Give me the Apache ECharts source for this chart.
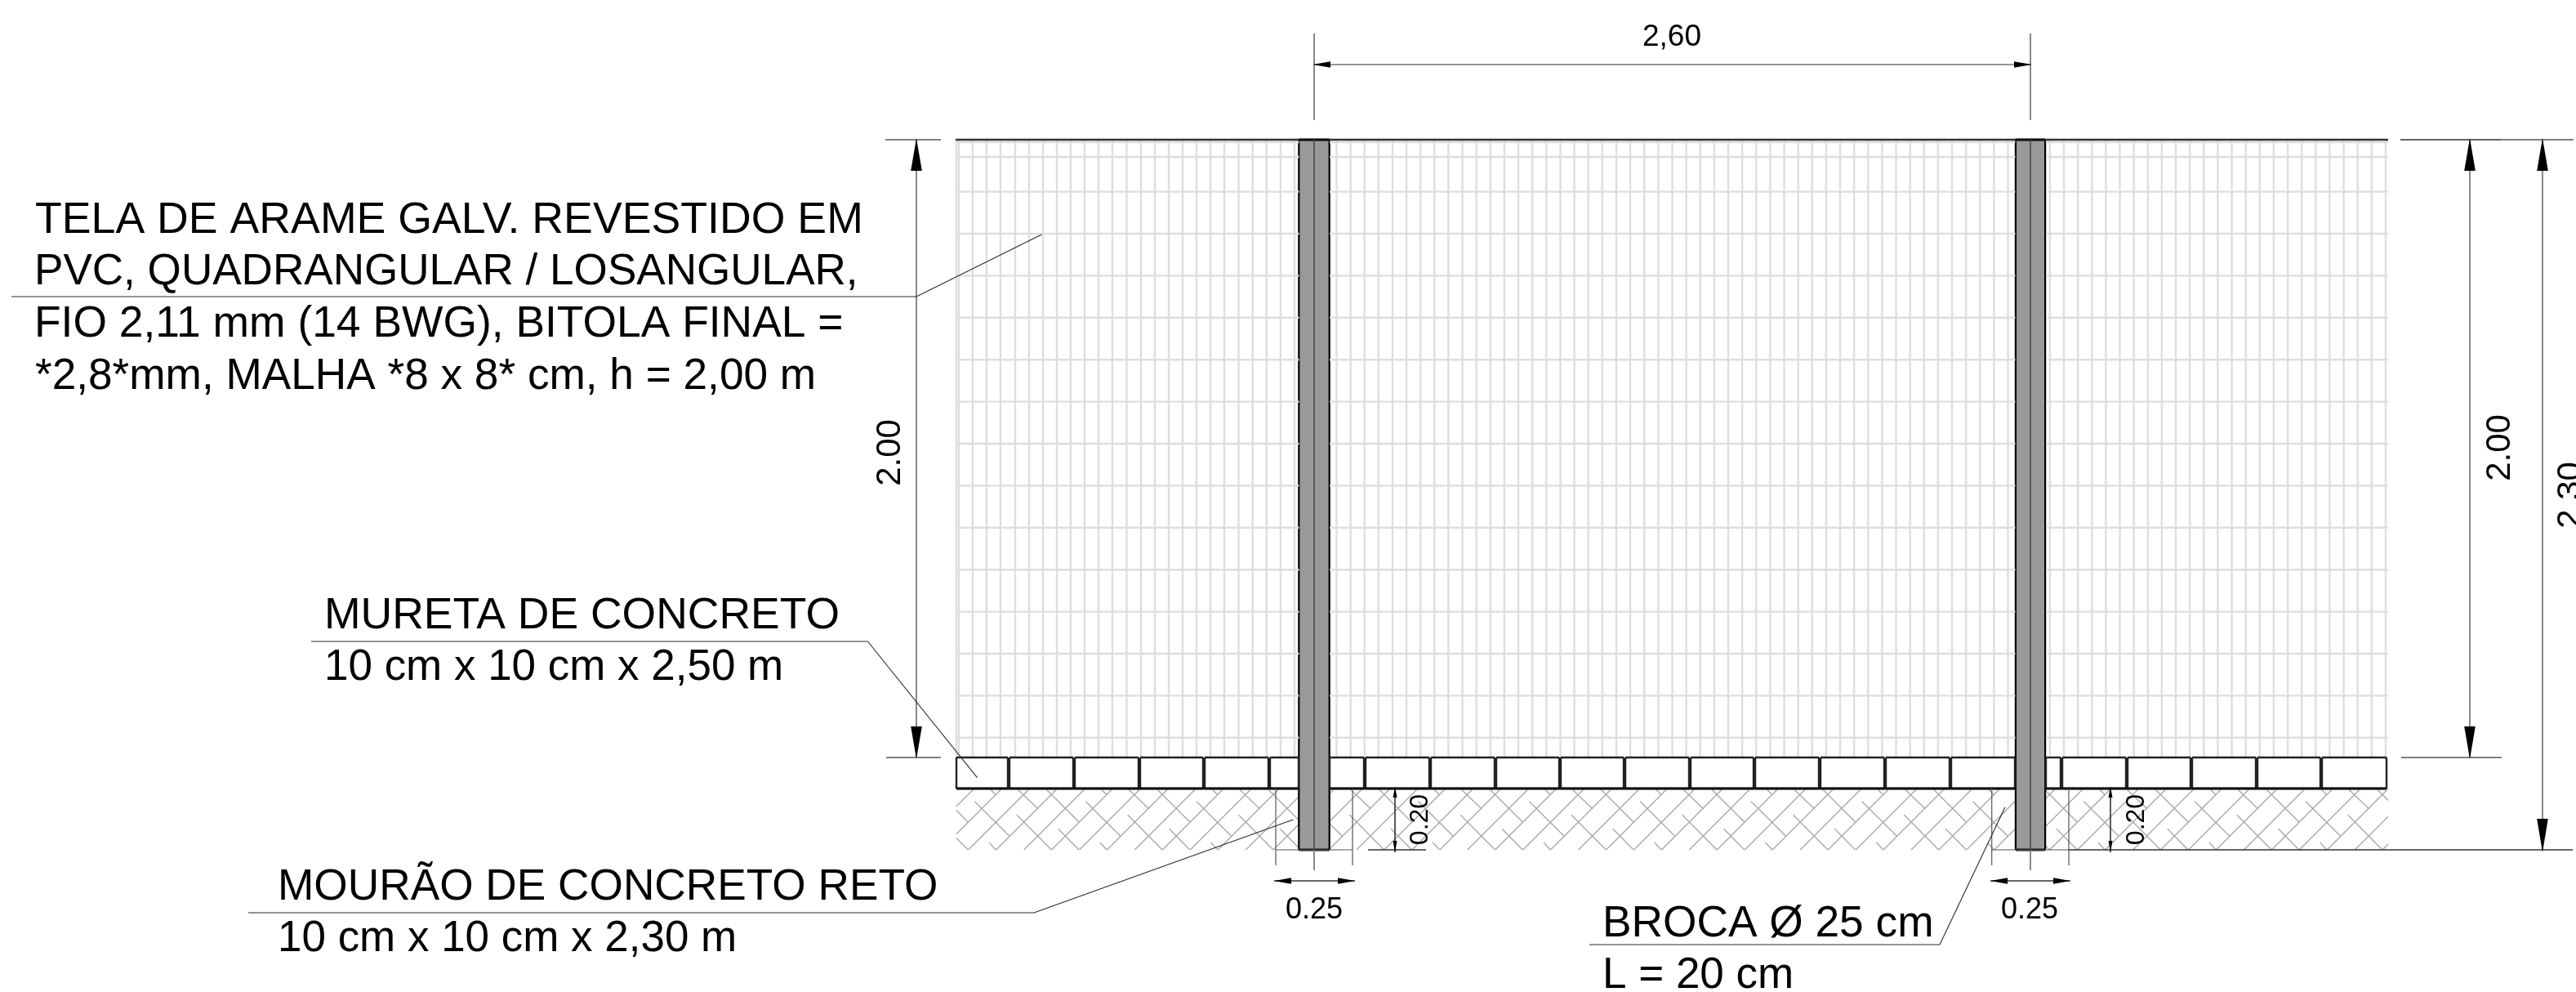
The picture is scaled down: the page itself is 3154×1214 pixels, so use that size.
<!DOCTYPE html>
<html>
<head>
<meta charset="utf-8">
<style>html,body{margin:0;padding:0;background:#fff;overflow:hidden}#c{width:3154px;height:1214px}</style>
<script src="https://cdn.jsdelivr.net/npm/echarts@6/dist/echarts.min.js"></script>
</head>
<body>
<div id="c"></div>
<script>
// All values are in drawing units (x right, y down).
const meshX = [1171,1174,1191,1208,1225,1243,1260,1277,1294,1311,1328,1345,1362,1379.5,1397,1414,1431,1448,1465,1482,1499,1516.5,1533.7,1550.8,1567.9,1585,
  1636.4,1653.6,1670.7,1687.8,1705,1722,1739.2,1756.3,1773.4,1790.6,1807.7,1824.8,1841.9,1859,1876.2,1893.3,1910.5,1927.6,1944.7,1961.8,1979,1996,2013.2,2030.4,2047.5,2064.6,2081.7,2098.9,2116,2133.1,2150.2,2167.4,2184.5,2201.6,2218.7,2235.9,2253,2270.1,2287.3,2304.4,2321.5,2338.6,2355.8,2372.9,2390,2407.1,2424.3,2441.4,2458.5,
  2509.9,2527,2544.2,2561.3,2578.4,2595.5,2612.7,2629.8,2646.9,2664,2681.2,2698.3,2715.4,2732.6,2749.7,2766.8,2783.9,2801.1,2818.2,2835.3,2852.4,2869.6,2886.7,2903.8,2921];
const meshY = [174,192,234.6,286,337.4,388.8,440.2,491.6,543,594.4,645.8,697.2,748.6,800,851.4,902.8];
const meshSpans = [[1171,1590.5],[1628,2467.5],[2505,2924]];
const wallBlocks = [[1171,1234],[1236,1314],[1316,1394],[1396,1473],[1475,1553],[1555,1590],[1628,1670],[1672,1750],[1752,1830],[1832,1909],[1911,1988],[1990,2068],[2070,2147],[2149,2227],[2229,2307],[2309,2387],[2389,2467],[2505,2523],[2525,2603],[2605,2682],[2684,2762],[2764,2841],[2843,2922]];
const wallTop = 927, wallBottom = 965, groundBottom = 1040, fenceTop = 171;
const posts = [[1590.3,1627.7,1609],[2467.9,2504.1,2486]];
const hatchTileOrigins = [1029.2,1165,1300.8,1436.6,1572.4,1708.2,1844,1979.8,2115.6,2251.4,2387.2,2523,2658.8,2794.6];
const hatchTile = [
  [20.7,1040,95.7,965],[54.6,1040,129.6,965],[88.6,1040,163.6,965],[122.5,1040,197.5,965],
  [46.7,965,54.3,972.7],[80,965,106,990],[115,965,156,1006],[28.3,980.7,71,1023.3],[80,997.3,122.3,1040],[130.7,1014.3,156,1040],[46,1031,54.3,1040]
];
const hatchRange = [1171,2924];
const holeLines = [[1562,965,1562,1059],[1656,965,1656,1059],[2438.7,965,2438.7,1059],[2533,965,2533,1059],[1562,1040,1656,1040],[2438.7,1040,2533,1040]];
const dimGray = [[1609,41,1609,147],[2486,41,2486,147],[1609,79,2486,79],[1122,171,1122,927],[3024,171,3024,927],[3113,171,3113,1040],[1609,1040,1609,1065],[2486,1040,2486,1065]];
const dimTicks = [[1084,171,1152,171],[1085,927,1152,927],[3062,171,3151,171],[2940,927,3063,927]];
const dimDark = [[2939,171,3062,171],[2533,1040,3150,1040],[1675,1040,1746,1040],[1560,1078,1659,1078],[2437,1078,2535,1078],[1708,963,1708,1043],[2584,963,2584,1043]];
const leaders = [[14,363,1122,363],[1122,363,1275.4,287],[381,785,1062.5,785],[1062.5,785,1196.5,951.7],[304,1117,1266,1117],[1266,1117,1583.5,1003],[1946,1156,2375,1156],[2375,1156,2455,987.7]];
// arrows: tip x, tip y, base x, base y, half width
const arrows = [
  [1607,79,1629,79,3.7],[2488,79,2466,79,3.7],
  [1122,169,1122,209,6.8],[1122,929,1122,889,6.8],
  [3024,169,3024,209,6.8],[3024,929,3024,889,6.8],
  [3113,169,3113,209,6.8],[3113,1043,3113,1002,6.8],
  [1560,1078,1581,1078,3.7],[1659,1078,1638,1078,3.7],[2437,1078,2458,1078,3.7],[2535,1078,2514,1078,3.7],
  [1708,963,1708,976,2.5],[1708,1043,1708,1029,2.5],[2584,963,2584,976,2.5],[2584,1043,2584,1029,2.5]
];
// text, x, y of cap-middle, size, align, rotation in degrees, width scale
const labels = [
  ['TELA DE ARAME GALV. REVESTIDO EM',43,270,53.5,'left',0,1.003],
  ['PVC, QUADRANGULAR / LOSANGULAR,',42,333,53.5,'left',0,0.992],
  ['FIO 2,11 mm (14 BWG), BITOLA FINAL =',42,397.7,53.5,'left',0,0.998],
  ['*2,8*mm, MALHA *8 x 8* cm, h = 2,00 m',43,461.7,53.5,'left',0,0.994],
  ['MURETA DE CONCRETO',397,754,53.5,'left',0,1],
  ['10 cm x 10 cm x 2,50 m',397,817.3,53.5,'left',0,0.99],
  ['MOURÃO DE CONCRETO RETO',340,1086,53.5,'left',0,0.995],
  ['10 cm x 10 cm x 2,30 m',340,1149.3,53.5,'left',0,0.99],
  ['BROCA Ø 25 cm',1962,1131,53,'left',0,1.005],
  ['L = 20 cm',1962,1194,53,'left',0,1],
  ['2,60',2047,46,37,'center',0,1],
  ['0.25',1609,1114,36,'center',0,1],
  ['0.25',2485,1114,36,'center',0,1],
  ['0.20',1739.5,1003,32,'center',90,1],
  ['0.20',2616.5,1003,32,'center',90,1],
  ['2.00',1090.5,554,42,'center',90,1],
  ['2.00',3061,548,42,'center',90,1],
  ['2.30',3148.5,606,42,'center',90,1]
];

function clipToRange(s, range) {
  let [x1,y1,x2,y2] = s;
  if (x1 > x2) { [x1,y1,x2,y2] = [x2,y2,x1,y1]; }
  if (x2 < range[0] || x1 > range[1]) return null;
  const m = (y2-y1)/(x2-x1);
  if (x1 < range[0]) { y1 += m*(range[0]-x1); x1 = range[0]; }
  if (x2 > range[1]) { y2 -= m*(x2-range[1]); x2 = range[1]; }
  return [x1,y1,x2,y2];
}
const hatchSegments = [];
hatchTileOrigins.forEach(o => hatchTile.forEach(t => {
  const c = clipToRange([o+t[0],t[1],o+t[2],t[3]], hatchRange);
  if (c) hatchSegments.push(c);
}));
const meshSegments = [];
meshX.forEach(x => meshSegments.push([x,fenceTop,x,wallTop]));
meshY.forEach(y => meshSpans.forEach(s => meshSegments.push([s[0],y,s[1],y])));
const wallSegments = [];
wallBlocks.forEach(b => {
  wallSegments.push([b[0],wallTop,b[1],wallTop],[b[0],wallBottom,b[1],wallBottom],[b[0],wallTop,b[0],wallBottom],[b[1],wallTop,b[1],wallBottom]);
});
const postSides = [], postCentres = [], postEnds = [], postBodies = [];
posts.forEach(p => {
  postSides.push([p[0],fenceTop,p[0],groundBottom],[p[1],fenceTop,p[1],groundBottom]);
  postEnds.push([p[0],fenceTop,p[1],fenceTop],[p[0],groundBottom,p[1],groundBottom]);
  postCentres.push([p[2],fenceTop,p[2],groundBottom]);
  postBodies.push([p[0],fenceTop,p[1],groundBottom]);
});

function segs(name, data, color, width, cap) {
  return {
    type:'custom', name, silent:true, data, clip:true, animation:false,
    renderItem(params, api) {
      const a = api.coord([api.value(0),api.value(1)]), b = api.coord([api.value(2),api.value(3)]);
      return {type:'line', shape:{x1:a[0],y1:a[1],x2:b[0],y2:b[1]}, style:{stroke:color,lineWidth:width,fill:null,lineCap:cap||'butt'}};
    }
  };
}
const series = [
  segs('hatch', hatchSegments, '#aaaaaa', 1.4),
  {type:'custom',name:'posts',silent:true,data:postBodies,animation:false,renderItem(params,api){
    const a=api.coord([api.value(0),api.value(1)]),b=api.coord([api.value(2),api.value(3)]);
    return {type:'rect',shape:{x:a[0],y:a[1],width:b[0]-a[0],height:b[1]-a[1]},style:{fill:'#999999'}};
  }},
  segs('postSides', postSides, '#000000', 2.2),
  segs('mesh', meshSegments, '#dedede', 2.4),
  segs('fenceTop', [[1170,171,2924,171]], '#333333', 2.5),
  segs('postEnds', postEnds, '#111111', 3),
  segs('postCentres', postCentres, '#444444', 1.5),
  segs('wall', wallSegments, '#222222', 2.4),
  segs('wallBase', [[1171,965,1590,965],[1628,965,2467,965],[2505,965,2922,965]], '#111111', 3),
  segs('hole', holeLines, '#555555', 1.2),
  segs('dimGray', dimGray, '#747474', 1.7),
  segs('dimTicks', dimTicks, '#808080', 2),
  segs('dimDark', dimDark, '#333333', 1.6),
  segs('leaders', leaders, '#2b2b2b', 1.1),
  {type:'custom',name:'arrows',silent:true,data:arrows,animation:false,renderItem(params,api){
    const t=api.coord([api.value(0),api.value(1)]),b=api.coord([api.value(2),api.value(3)]),h=api.value(4);
    const dx=b[0]-t[0],dy=b[1]-t[1],l=Math.hypot(dx,dy),nx=-dy/l*h,ny=dx/l*h;
    return {type:'polygon',shape:{points:[t,[b[0]+nx,b[1]+ny],[b[0]-nx,b[1]-ny]]},style:{fill:'#000000'}};
  }},
  {type:'custom',name:'labels',silent:true,clip:false,data:labels.map(l=>[l[1],l[2]]),animation:false,renderItem(params,api){
    const l=labels[params.dataIndex],p=api.coord([l[1],l[2]]);
    return {type:'text',x:p[0],y:p[1],originX:0,originY:0,scaleX:l[6],rotation:l[5]*Math.PI/180,style:{text:l[0],fill:'#000000',font:l[3]+'px "Liberation Sans"',textAlign:l[4],textVerticalAlign:'middle'}};
  }}
];
const chart = echarts.init(document.getElementById('c'),null,{renderer:'canvas',width:3154,height:1214});
chart.setOption({
  animation:false, backgroundColor:'#ffffff',
  grid:{left:0,right:0,top:0,bottom:0,containLabel:false},
  xAxis:{type:'value',min:0,max:3154,show:false},
  yAxis:{type:'value',min:0,max:1214,inverse:true,show:false},
  series
});
</script>
</body>
</html>
